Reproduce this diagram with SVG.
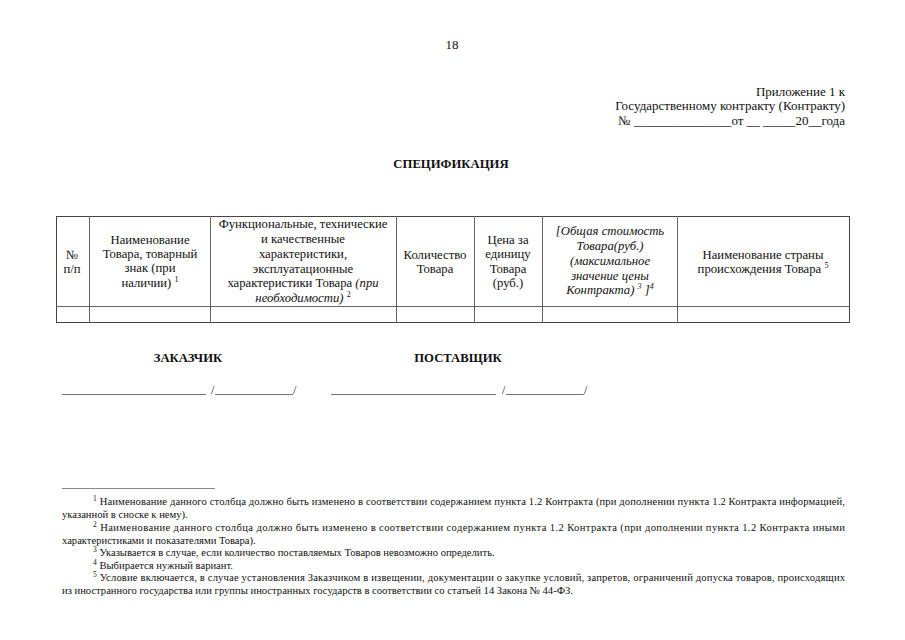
<svg xmlns="http://www.w3.org/2000/svg" width="905" height="640" viewBox="0 0 905 640">
<style>
text{font-family:"Liberation Serif","Times New Roman",serif;fill:#111}
.h{font-size:12.7px;text-anchor:middle}
.r{font-size:13px;text-anchor:end}
.b{font-size:12.7px;font-weight:bold;text-anchor:middle}
.f{font-size:10.6px}
.i{font-style:italic}
.sup{font-size:8px}
.fs{font-size:7.5px}
.g{stroke:#666;stroke-width:1;fill:none}
.s{stroke:#777;stroke-width:1}
</style>
<rect width="905" height="640" fill="#fff"/>
<text x="452" y="49" class="h" style="font-size:13px">18</text>
<g id="appendix">
<text x="845" y="96" class="r">Приложение 1 к</text>
<text x="845" y="110" class="r">Государственному контракту (Контракту)</text>
<text x="845" y="125" class="r">№ _______________от __ _____20__года</text>
</g>
<text x="451" y="168" class="b">СПЕЦИФИКАЦИЯ</text>
<g id="table">
<rect x="56.5" y="216.5" width="793" height="106" class="g" style="stroke:#444"/>
<line x1="56" y1="306.5" x2="850" y2="306.5" class="g"/>
<line x1="89.5" y1="216" x2="89.5" y2="323" class="g"/>
<line x1="210.5" y1="216" x2="210.5" y2="323" class="g"/>
<line x1="396.5" y1="216" x2="396.5" y2="323" class="g"/>
<line x1="474.5" y1="216" x2="474.5" y2="323" class="g"/>
<line x1="542.5" y1="216" x2="542.5" y2="323" class="g"/>
<line x1="677.5" y1="216" x2="677.5" y2="323" class="g"/>
<text class="h"><tspan x="72" y="259">№</tspan><tspan x="72" y="273">п/п</tspan></text>
<text class="h"><tspan x="150" y="244">Наименование</tspan><tspan x="150" y="258">Товара, товарный</tspan><tspan x="150" y="272">знак (при</tspan><tspan x="150" y="287">наличии) <tspan class="sup" dy="-5">1</tspan></tspan></text>
<text class="h"><tspan x="303" y="228">Функциональные, технические</tspan><tspan x="303" y="243">и качественные</tspan><tspan x="303" y="258">характеристики,</tspan><tspan x="303" y="273">эксплуатационные</tspan><tspan x="303" y="287">характеристики Товара <tspan class="i">(при</tspan></tspan><tspan x="303" y="302"><tspan class="i">необходимости)</tspan> <tspan class="sup" dy="-5">2</tspan></tspan></text>
<text class="h"><tspan x="435" y="259">Количество</tspan><tspan x="435" y="273">Товара</tspan></text>
<text class="h"><tspan x="508" y="244">Цена за</tspan><tspan x="508" y="258">единицу</tspan><tspan x="508" y="273">Товара</tspan><tspan x="508" y="287">(руб.)</tspan></text>
<text class="h i"><tspan x="610" y="235">[Общая стоимость</tspan><tspan x="610" y="250">Товара(руб.)</tspan><tspan x="610" y="265">(максимальное</tspan><tspan x="610" y="280">значение цены</tspan><tspan x="610" y="294">Контракта) <tspan class="sup" dy="-5">3</tspan><tspan dy="5"> ]</tspan><tspan class="sup" dy="-5">4</tspan></tspan></text>
<text class="h"><tspan x="763" y="259">Наименование страны</tspan><tspan x="763" y="273">происхождения Товара <tspan class="sup" dy="-5">5</tspan></tspan></text>
</g>
<g id="signatures">
<text x="188" y="362" class="b">ЗАКАЗЧИК</text>
<text x="458" y="362" class="b">ПОСТАВЩИК</text>
<line x1="62" y1="394.5" x2="206" y2="394.5" class="s"/>
<text x="211" y="394" style="font-size:12px">/</text>
<line x1="215" y1="394.5" x2="293" y2="394.5" class="s"/>
<text x="293" y="394" style="font-size:12px">/</text>
<line x1="331" y1="394.5" x2="496" y2="394.5" class="s"/>
<text x="502" y="394" style="font-size:12px">/</text>
<line x1="506" y1="394.5" x2="584" y2="394.5" class="s"/>
<text x="584" y="394" style="font-size:12px">/</text>
</g>
<g id="footnotes">
<line x1="62" y1="488.5" x2="215" y2="488.5" stroke="#888" stroke-width="1"/>
<text class="f" x="93" y="505" textLength="752" lengthAdjust="spacing"><tspan class="fs" dy="-4">1</tspan><tspan dy="4"> Наименование данного столбца должно быть изменено в соответствии содержанием пункта 1.2 Контракта (при дополнении пункта 1.2 Контракта информацией,</tspan></text>
<text class="f" x="62" y="518">указанной в сноске к нему).</text>
<text class="f" x="93" y="531" textLength="752" lengthAdjust="spacing"><tspan class="fs" dy="-4">2</tspan><tspan dy="4"> Наименование данного столбца должно быть изменено в соответствии содержанием пункта 1.2 Контракта (при дополнении пункта 1.2 Контракта иными</tspan></text>
<text class="f" x="62" y="544">характеристиками и показателями Товара).</text>
<text class="f" x="93" y="556"><tspan class="fs" dy="-4">3</tspan><tspan dy="4"> Указывается в случае, если количество поставляемых Товаров невозможно определить.</tspan></text>
<text class="f" x="93" y="569"><tspan class="fs" dy="-4">4</tspan><tspan dy="4"> Выбирается нужный вариант.</tspan></text>
<text class="f" x="93" y="581" textLength="752" lengthAdjust="spacing"><tspan class="fs" dy="-4">5</tspan><tspan dy="4"> Условие включается, в случае установления Заказчиком в извещении, документации о закупке условий, запретов, ограничений допуска товаров, происходящих</tspan></text>
<text class="f" x="62" y="594">из иностранного государства или группы иностранных государств в соответствии со статьей 14 Закона № 44-ФЗ.</text>
</g>
</svg>
